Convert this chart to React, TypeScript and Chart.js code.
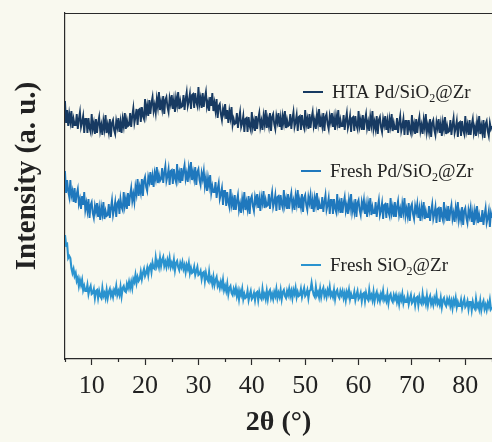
import React, { useEffect, useRef } from "react";
import { Chart, registerables } from "chart.js";

Chart.register(...registerables);

// 2θ scan: start 5°, step 0.2°, 401 points up to 85°
const scanStart = 5;
const scanStep = 0.2;

const htaPd = [
  258, 236, 249, 233, 245, 237, 248, 231, 240, 234,
  234, 245, 230, 240, 247, 232, 237, 243, 226, 240,
  240, 226, 241, 231, 227, 245, 230, 236, 225, 240,
  226, 236, 242, 228, 234, 224, 238, 230, 244, 226,
  234, 227, 240, 222, 236, 239, 229, 225, 238, 232,
  241, 227, 237, 226, 240, 233, 246, 230, 239, 233,
  234, 246, 232, 243, 251, 236, 242, 250, 234, 249,
  250, 237, 252, 243, 240, 260, 245, 253, 243, 259,
  245, 256, 262, 248, 254, 246, 260, 252, 267, 249,
  257, 250, 263, 245, 259, 262, 252, 247, 261, 255,
  264, 250, 259, 247, 261, 254, 267, 250, 258, 252,
  253, 264, 249, 260, 267, 253, 258, 265, 250, 264,
  265, 251, 266, 257, 253, 272, 255, 261, 251, 266,
  252, 261, 267, 252, 257, 248, 262, 253, 266, 248,
  256, 248, 260, 241, 253, 255, 245, 239, 250, 245,
  255, 240, 249, 236, 248, 241, 252, 234, 240, 235,
  236, 246, 231, 240, 247, 232, 236, 243, 227, 240,
  241, 227, 242, 233, 229, 247, 232, 238, 228, 243,
  230, 240, 246, 232, 238, 229, 243, 235, 249, 231,
  240, 233, 246, 228, 242, 245, 235, 230, 243, 237,
  246, 232, 241, 229, 243, 236, 248, 231, 239, 233,
  234, 245, 230, 240, 247, 232, 237, 244, 228, 242,
  243, 229, 244, 235, 231, 249, 234, 240, 230, 245,
  231, 241, 247, 233, 239, 230, 244, 236, 250, 232,
  240, 233, 246, 228, 242, 245, 235, 230, 243, 237,
  246, 232, 241, 229, 243, 236, 249, 231, 239, 233,
  233, 244, 229, 239, 246, 231, 236, 243, 227, 241,
  242, 228, 243, 234, 230, 248, 233, 239, 229, 244,
  229, 239, 245, 231, 237, 228, 242, 234, 248, 230,
  237, 230, 243, 225, 239, 242, 232, 227, 240, 234,
  243, 229, 238, 226, 240, 233, 245, 228, 236, 230,
  230, 241, 226, 236, 243, 228, 233, 240, 224, 238,
  238, 224, 239, 230, 226, 244, 229, 235, 225, 240,
  226, 236, 242, 228, 234, 225, 239, 231, 245, 227,
  234, 227, 240, 222, 236, 239, 229, 224, 237, 231,
  240, 226, 235, 223, 237, 230, 242, 225, 233, 227,
  228, 239, 224, 234, 241, 226, 231, 238, 222, 236,
  237, 223, 238, 229, 225, 243, 228, 234, 224, 239,
  224, 234, 240, 226, 232, 223, 237, 229, 243, 225,
  233, 226, 239, 221, 235, 238, 228, 223, 236, 230,
  233,
];

const freshPd = [
  188, 166, 179, 168, 162, 179, 163, 168, 157, 171,
  156, 165, 170, 155, 160, 150, 163, 154, 167, 149,
  156, 148, 160, 141, 154, 157, 146, 141, 153, 147,
  156, 142, 151, 139, 152, 145, 157, 140, 148, 143,
  144, 155, 141, 151, 159, 144, 150, 157, 142, 156,
  158, 145, 160, 152, 149, 167, 153, 160, 150, 166,
  153, 164, 171, 158, 165, 157, 172, 165, 180, 163,
  172, 166, 180, 163, 178, 182, 172, 168, 182, 177,
  187, 174, 183, 172, 186, 180, 192, 176, 184, 178,
  180, 191, 176, 186, 193, 178, 183, 190, 174, 188,
  189, 175, 190, 181, 177, 195, 180, 186, 176, 191,
  178, 188, 194, 180, 186, 177, 191, 183, 197, 179,
  187, 180, 192, 174, 187, 190, 179, 174, 186, 180,
  188, 173, 181, 168, 181, 173, 184, 166, 173, 167,
  167, 177, 161, 170, 176, 160, 165, 171, 154, 168,
  168, 153, 167, 157, 152, 170, 154, 160, 149, 164,
  149, 158, 164, 149, 155, 146, 160, 152, 167, 149,
  157, 150, 163, 145, 160, 163, 153, 148, 162, 156,
  165, 151, 160, 148, 162, 156, 168, 151, 159, 153,
  154, 165, 150, 160, 167, 152, 157, 164, 148, 162,
  163, 149, 164, 155, 151, 169, 154, 160, 150, 165,
  150, 160, 166, 152, 158, 149, 163, 155, 169, 151,
  159, 152, 165, 147, 161, 164, 154, 149, 162, 156,
  164, 150, 159, 147, 161, 154, 166, 149, 157, 151,
  151, 162, 147, 157, 164, 149, 154, 161, 145, 159,
  159, 145, 160, 151, 147, 165, 150, 156, 146, 161,
  146, 156, 162, 148, 154, 145, 159, 151, 165, 147,
  154, 147, 160, 142, 156, 159, 149, 144, 157, 151,
  159, 145, 154, 142, 156, 149, 161, 144, 152, 146,
  146, 157, 142, 152, 159, 144, 149, 156, 140, 154,
  155, 141, 156, 147, 143, 161, 146, 152, 142, 157,
  142, 152, 158, 144, 150, 141, 155, 147, 161, 143,
  150, 143, 156, 138, 152, 155, 145, 140, 153, 147,
  155, 141, 150, 138, 152, 145, 157, 140, 148, 142,
  142, 153, 138, 148, 155, 140, 145, 152, 136, 150,
  151, 137, 152, 143, 139, 157, 142, 148, 138, 153,
  138, 148, 154, 140, 146, 137, 151, 143, 157, 139,
  146, 139, 152, 134, 148, 151, 141, 136, 149, 143,
  151, 137, 146, 134, 148, 141, 153, 136, 144, 138,
  138, 149, 134, 144, 151, 136, 141, 148, 132, 146,
  141,
];

const freshSi = [
  124, 114, 115, 101, 103, 101, 91, 86, 90, 83,
  86, 78, 81, 73, 79, 74, 79, 69, 73, 68,
  68, 74, 65, 70, 73, 65, 66, 70, 61, 68,
  69, 61, 68, 63, 61, 71, 63, 66, 61, 69,
  61, 67, 70, 63, 67, 62, 69, 66, 73, 64,
  68, 64, 72, 63, 71, 73, 68, 67, 75, 71,
  77, 71, 77, 71, 80, 77, 84, 76, 82, 78,
  80, 87, 80, 86, 90, 83, 86, 91, 84, 92,
  94, 87, 96, 91, 90, 101, 93, 97, 92, 101,
  93, 99, 102, 93, 97, 92, 99, 94, 101, 92,
  96, 92, 99, 89, 96, 98, 92, 89, 96, 92,
  97, 90, 94, 87, 94, 90, 96, 86, 91, 86,
  87, 92, 84, 88, 92, 84, 85, 88, 80, 86,
  87, 78, 86, 80, 78, 87, 78, 81, 75, 82,
  74, 79, 82, 73, 76, 71, 77, 72, 79, 69,
  73, 68, 75, 65, 71, 73, 66, 64, 70, 66,
  71, 63, 68, 60, 68, 64, 70, 60, 65, 61,
  62, 68, 59, 64, 68, 60, 62, 66, 59, 66,
  67, 59, 67, 62, 60, 70, 62, 65, 60, 68,
  60, 67, 69, 61, 65, 60, 67, 63, 70, 61,
  66, 62, 69, 60, 67, 69, 63, 61, 68, 64,
  70, 63, 68, 61, 69, 65, 71, 62, 67, 63,
  64, 70, 62, 67, 71, 63, 65, 69, 61, 68,
  69, 76, 69, 64, 62, 72, 64, 67, 62, 70,
  62, 68, 71, 63, 67, 62, 69, 65, 72, 63,
  66, 62, 69, 60, 67, 69, 63, 61, 68, 64,
  68, 61, 66, 59, 67, 63, 69, 60, 65, 61,
  61, 67, 59, 64, 68, 60, 62, 66, 58, 65,
  66, 58, 66, 61, 59, 69, 61, 64, 59, 67,
  58, 64, 67, 59, 63, 58, 65, 61, 68, 59,
  62, 58, 65, 56, 63, 65, 59, 57, 64, 60,
  64, 57, 62, 55, 63, 59, 65, 56, 61, 57,
  57, 63, 55, 60, 64, 56, 58, 62, 54, 61,
  62, 54, 62, 57, 55, 65, 57, 60, 55, 63,
  54, 60, 63, 55, 59, 54, 61, 57, 64, 55,
  58, 54, 61, 52, 59, 61, 55, 53, 60, 56,
  60, 53, 58, 51, 59, 55, 61, 52, 57, 53,
  53, 59, 51, 56, 60, 52, 54, 58, 50, 57,
  57, 49, 57, 52, 50, 60, 52, 55, 50, 58,
  49, 55, 58, 50, 54, 49, 56, 52, 59, 50,
  52,
];

const seriesNames = ["HTA Pd/SiO2@Zr", "Fresh Pd/SiO2@Zr", "Fresh SiO2@Zr"];
const seriesColors = ["#173a62", "#1f78bd", "#2a93cf"];
const seriesWidths = [1.9, 1.9, 2.1];
const xTickValues = [10, 20, 30, 40, 50, 60, 70, 80];
const xMinorTicks = [5, 15, 25, 35, 45, 55, 65, 75, 85];
const xTitle = "2θ (°)";
const yTitle = "Intensity (a. u.)";

const FONT = "'Liberation Serif', 'Times New Roman', serif";
const INK = "#222222";

const legendSpots = [
  { x: 303, y: 92 },
  { x: 301, y: 171 },
  { x: 301, y: 265 },
];

function drawRich(ctx: CanvasRenderingContext2D, name: string, x: number, y: number) {
  const idx = name.indexOf("O2");
  const before = idx >= 0 ? name.slice(0, idx + 1) : name;
  const after = idx >= 0 ? name.slice(idx + 2) : "";
  ctx.textAlign = "left";
  ctx.textBaseline = "alphabetic";
  ctx.fillStyle = INK;
  ctx.font = `19px ${FONT}`;
  ctx.fillText(before, x, y);
  let cx = x + ctx.measureText(before).width;
  if (idx >= 0) {
    ctx.font = `12px ${FONT}`;
    ctx.fillText("2", cx, y + 4);
    cx += ctx.measureText("2").width;
    ctx.font = `19px ${FONT}`;
    ctx.fillText(after, cx, y);
  }
}

const decor = {
  id: "decor",
  afterDraw(chart: any) {
    const { ctx, chartArea: ca, scales } = chart;
    ctx.save();
    ctx.strokeStyle = "#2a2a2a";
    ctx.lineWidth = 1.2;
    ctx.beginPath();
    ctx.moveTo(ca.left, ca.top + 0.5);
    ctx.lineTo(ca.right, ca.top + 0.5);
    ctx.stroke();
    ctx.beginPath();
    for (const v of xMinorTicks) {
      const px = Math.round(scales.x.getPixelForValue(v)) + 0.5;
      ctx.moveTo(px, ca.bottom);
      ctx.lineTo(px, ca.bottom + 3);
    }
    ctx.stroke();
    seriesNames.forEach((name, i) => {
      const s = legendSpots[i];
      ctx.strokeStyle = seriesColors[i];
      ctx.lineWidth = 2;
      ctx.beginPath();
      ctx.moveTo(s.x, s.y);
      ctx.lineTo(s.x + 20, s.y);
      ctx.stroke();
      drawRich(ctx, name, s.x + 29, s.y + 6);
    });
    ctx.translate(28, 176);
    ctx.rotate(-Math.PI / 2);
    ctx.font = `bold 29px ${FONT}`;
    ctx.fillStyle = INK;
    ctx.textAlign = "center";
    ctx.textBaseline = "middle";
    ctx.fillText(yTitle, 0, 0);
    ctx.restore();
  },
};

export default function App() {
  const ref = useRef<HTMLCanvasElement | null>(null);
  useEffect(() => {
    if (!ref.current) return;
    const toPts = (arr: number[]) => arr.map((v, i) => ({ x: +(scanStart + i * scanStep).toFixed(1), y: v }));
    const chart = new Chart(ref.current, {
      type: "line",
      data: {
        datasets: [htaPd, freshPd, freshSi].map((arr, i) => ({
          label: seriesNames[i],
          data: toPts(arr),
          borderColor: seriesColors[i],
          borderWidth: seriesWidths[i],
          pointRadius: 0,
          tension: 0,
          fill: false,
        })),
      },
      options: {
        animation: false,
        responsive: false,
        maintainAspectRatio: false,
        layout: { padding: { top: 13, right: 0, left: 0, bottom: 0 } },
        plugins: { legend: { display: false }, tooltip: { enabled: false } },
        scales: {
          x: {
            type: "linear",
            min: 5,
            max: 85,
            afterBuildTicks: (scale: any) => {
              scale.ticks = xTickValues.map((v) => ({ value: v }));
            },
            afterFit: (scale: any) => {
              scale.height = 83;
            },
            ticks: {
              font: { family: FONT, size: 26 },
              color: INK,
              padding: 6,
              maxRotation: 0,
              autoSkip: false,
            },
            grid: { drawOnChartArea: false, tickLength: 6, tickColor: "#2a2a2a", tickWidth: 1.2 },
            border: { display: true, color: "#2a2a2a", width: 1.2 },
            title: {
              display: true,
              text: xTitle,
              font: { family: FONT, size: 28, weight: "bold" },
              color: INK,
              padding: { top: 0, bottom: 2 },
            },
          },
          y: {
            min: 0,
            max: 346,
            afterFit: (scale: any) => {
              scale.width = 65;
            },
            ticks: { display: false },
            grid: { drawOnChartArea: false, drawTicks: false },
            border: { display: true, color: "#2a2a2a", width: 1.2 },
          },
        },
      },
      plugins: [decor],
    });
    return () => chart.destroy();
  }, []);
  return (
    <div style={{ position: "fixed", left: 0, top: 0, width: 492, height: 442, background: "#f9f9ef" }}>
      <canvas ref={ref} width={492} height={442} style={{ display: "block" }} />
    </div>
  );
}
